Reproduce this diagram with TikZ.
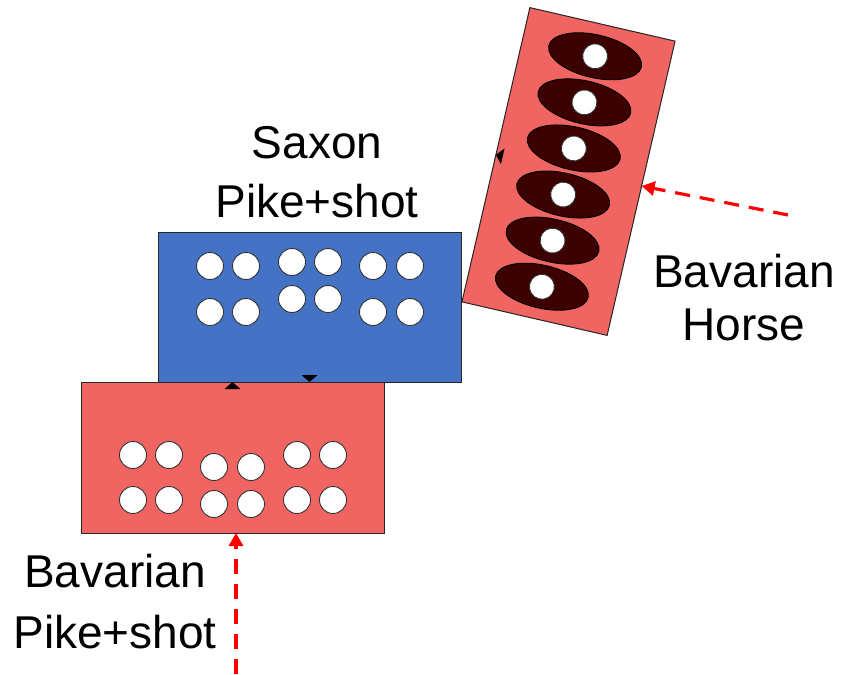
\documentclass[tikz,border=0pt]{standalone}
\usepackage{fontspec}
\setmainfont{Liberation Sans}
\usetikzlibrary{arrows.meta,calc}
\definecolor{saxonblue}{HTML}{4472C4}
\definecolor{bavred}{HTML}{F06462}
\definecolor{horsebrown}{HTML}{3D0000}
\begin{document}
\begin{tikzpicture}[x=1pt,y=-1pt,
  block/.style={draw=black!85, line width=1pt, inner sep=0pt, outer sep=0pt},
  soldier/.style={fill=white, draw=black!80, line width=0.9pt},
  rider/.style={fill=horsebrown, draw=black, line width=0.9pt},
  pointer/.style={fill=black},
  advance/.style={red, line width=3.2pt, dash pattern=on 15pt off 10pt,
    -{Triangle[length=13pt,width=14pt]}},
  unitlabel/.style={align=center, inner sep=0pt, anchor=base}]
\useasboundingbox (0,0) rectangle (842,674);

% Saxon pike and shot block
\node[block, fill=saxonblue, minimum width=303pt, minimum height=150pt] (saxon) at (309.5,307) {};
\foreach \x/\y in {210/266,246/266,210/312,246/312,292/262,328/262,292/299,328/299,373/266,410/266,373/312,410/312}
  \draw[soldier] (\x,\y) circle[radius=13.5];

% Bavarian pike and shot block
\node[block, fill=bavred, minimum width=303pt, minimum height=151pt] (bavpike) at (232.5,457.5) {};
\foreach \x/\y in {133/455,169/455,133/500,169/500,214/467,251/467,214/504,251/504,297/455,333/455,297/500,333/500}
  \draw[soldier] (\x,\y) circle[radius=13.5];

% contact markers between the two foot blocks
\fill[pointer] (saxon.south) -- ++(-8,-7) -- ++(16,0) -- cycle;
\fill[pointer] (bavpike.north) -- ++(-8,7) -- ++(16,0) -- cycle;

% Bavarian horse, wheeled onto the Saxon flank
\node[block, fill=bavred, minimum width=149pt, minimum height=302pt, rotate=-13] (horse) at (568.5,171.5) {};
\begin{scope}[shift={(horse.center)}, rotate=-13]
  \foreach \k in {0,...,5} {
    \draw[rider] (0,{(\k-2.5)*47.3}) ellipse[x radius=47.5, y radius=21.5];
    \draw[soldier] (0,{(\k-2.5)*47.3}) circle[radius=12.5];
  }
  \fill[pointer] (-74.5,0) -- (-67.5,-8) -- (-67.5,8) -- cycle;
\end{scope}

% lines of advance
\coordinate (horsefrom) at (788,215);
\draw[advance] (horsefrom) -- (horse);
\coordinate (pikefrom) at (236,674);
\draw[advance] (pikefrom) -- (pikefrom |- bavpike.south);

% unit labels (anchored on the baseline of the second line)
\node[unitlabel, font=\fontsize{46}{59}\selectfont] (saxonlabel) at (317,217) {Saxon\\Pike+shot};
\node[unitlabel, font=\fontsize{46}{53}\selectfont] (horselabel) at (744,340) {Bavarian\\Horse};
\node[unitlabel, font=\fontsize{46}{61}\selectfont] (pikelabel) at (115,648) {Bavarian\\Pike+shot};
\end{tikzpicture}
\end{document}
